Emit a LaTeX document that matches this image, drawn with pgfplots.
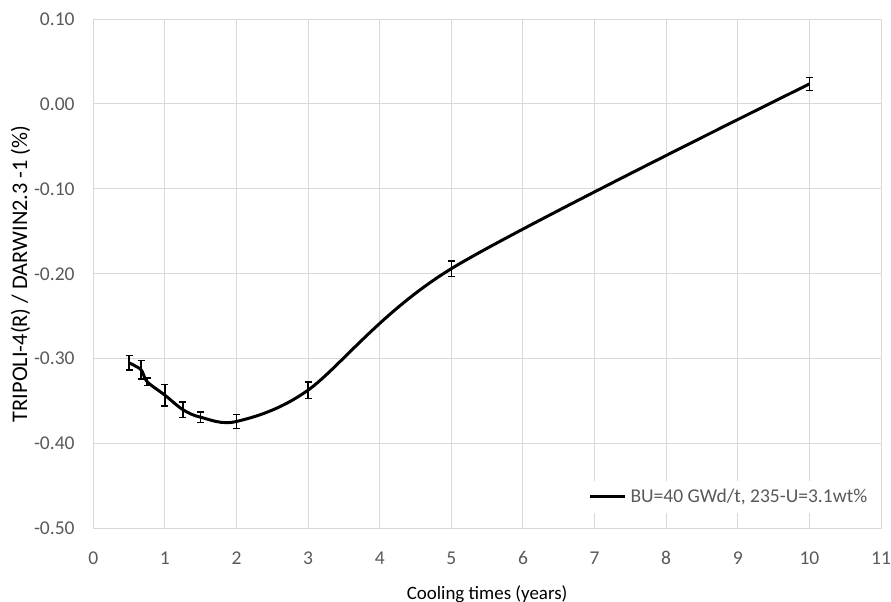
\documentclass[border=0pt]{standalone}
\usepackage{pgfplots}
\pgfplotsset{compat=1.18}
\usepackage{pgfplotstable}
\usepackage{fontspec}
\setmainfont{Carlito}
\definecolor{txt}{HTML}{595959}
\definecolor{gridc}{HTML}{D9D9D9}
\definecolor{axc}{HTML}{BFBFBF}

% cooling time (years), deviation (%), error
\pgfplotstableread{
x      y        err
0.5    -0.305   0.0086
0.667  -0.313   0.0110
0.75   -0.327   0.0045
1      -0.343   0.0127
1.25   -0.360   0.0090
1.5    -0.369   0.0060
2      -0.374   0.0084
3      -0.337   0.0098
5      -0.194   0.0090
10      0.0235  0.0079
}\cooling

\newcommand{\chartfont}{\fontsize{9.8}{11.5}\selectfont}

\begin{document}
\begin{tikzpicture}
\begin{axis}[
  scale only axis, width=393.85bp, height=254.75bp,
  xmin=0, xmax=11, ymin=-0.5, ymax=0.1,
  xtick={0,1,2,3,4,5,6,7,8,9,10,11},
  ytick={-0.5,-0.4,-0.3,-0.2,-0.1,0,0.1},
  yticklabels={-0.50,-0.40,-0.30,-0.20,-0.10,0.00,0.10},
  /pgf/number format/assume math mode=true,
  axis line style={draw=none}, major tick length=0pt,
  grid=major, major grid style={gridc, line width=0.5bp},
  extra y ticks={0}, extra y tick labels={},
  extra y tick style={grid style={axc, line width=0.8bp}},
  ticklabel style={font=\chartfont, text=txt, inner sep=0pt},
  xticklabel style={anchor=center, yshift=-14.75bp},
  yticklabel style={anchor=east, xshift=-9.15bp},
  xlabel={Cooling times (years)},
  ylabel={TRIPOLI-4(R) / DARWIN2.3 -1 (\%)},
  label style={text=txt},
  every axis x label/.style={at={(axis description cs:0.5,-0.1395)}, anchor=base,
    font=\fontsize{9.5}{11}\selectfont},
  every axis y label/.style={at={(axis description cs:-0.0924,0.5)}, rotate=90, anchor=center,
    font=\fontsize{11.2}{13}\selectfont},
  legend style={at={(axis cs:6.91,-0.4627)}, anchor=west, draw=none, fill=white,
    font=\chartfont, text=txt, inner xsep=0pt, inner ysep=2bp},
  legend cell align=left,
  legend image code/.code={\draw[#1] (0bp,0bp) -- (17.5bp,0bp);},
]
\addplot[black, line width=1.5bp, smooth, mark=none,
  error bars/.cd, y dir=both, y explicit,
  error bar style={line width=0.75bp, black},
  error mark options={rotate=90, mark size=1.75bp, line width=0.75bp, black}]
  table[x=x, y=y, y error=err] {\cooling};
\addlegendentry{BU=40 GWd/t, 235-U=3.1wt\%}
\end{axis}
\pgfresetboundingbox
\path[use as bounding box] (-46.65bp,-36.75bp) rectangle (398.85bp,264.25bp);
\end{tikzpicture}
\end{document}
